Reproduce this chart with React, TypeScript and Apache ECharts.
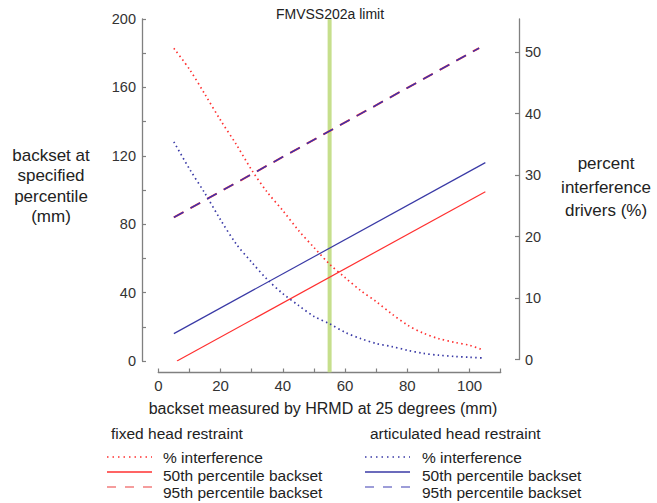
import React, { useEffect, useRef } from "react";
import * as echarts from "echarts";

// ---- data ----
const dotX = [5, 10, 15, 20, 25, 30, 35, 40, 45, 50, 55, 60, 65, 70, 75, 80, 85, 90, 95, 100, 104];
const fixedInterference = [50.6, 47.2, 43.1, 38.9, 35.0, 30.8, 27.2, 24.2, 21.0, 18.2, 15.5, 13.3, 11.2, 9.4, 7.4, 5.6, 4.3, 3.4, 2.8, 2.3, 1.6];
const articulatedInterference = [35.4, 31.0, 27.0, 22.7, 18.8, 15.8, 13.0, 10.7, 8.8, 7.0, 5.8, 4.4, 3.4, 2.6, 2.1, 1.5, 1.0, 0.7, 0.5, 0.35, 0.25];

const fixed50X = [6, 105];
const fixed50 = [0, 99];
const articulated50X = [5, 105];
const articulated50 = [16, 116];
const p95X = [5, 103];
const fixed95 = [84, 183];
const articulated95 = [84, 183];

const limitX = 55;
const limitLabel = "FMVSS202a limit";

const leftTicks = [0, 20, 40, 60, 80, 100, 120, 140, 160, 180, 200];
const leftLabels = [0, 40, 80, 120, 160, 200];
const rightTicks = [0, 10, 20, 30, 40, 50];
const xTicks = [0, 10, 20, 30, 40, 50, 60, 70, 80, 90, 100, 110];
const xLabels = [0, 20, 40, 60, 80, 100];

const xTitle = "backset measured by HRMD at 25 degrees (mm)";
const leftTitle = "backset at\nspecified\npercentile\n(mm)";
const rightTitle = "percent\ninterference\ndrivers (%)";
const legendGroups = ["fixed head restraint", "articulated head restraint"];
const legendItems = ["% interference", "50th percentile backset", "95th percentile backset"];

const RED = "#ff3030";
const BLUE = "#3a3aa6";
const GREEN = "#c6df8c";
const AXIS = "#808080";
const FONT = "'Liberation Sans', Arial, Helvetica, sans-serif";

const pairs = (xs: number[], ys: number[]) => xs.map((x, i) => [x, ys[i]]);

export default function App() {
  const ref = useRef<HTMLDivElement>(null);
  useEffect(() => {
    if (!ref.current) return;
    const chart = echarts.init(ref.current, null, { renderer: "svg" });

    const gridLeft = 142;
    const gridWidth = 377;
    const xMin = -5.23;
    const xMax = 115.8;

    const hiddenX = (gridIndex: number) => ({
      type: "value",
      gridIndex,
      min: xMin,
      max: xMax,
      show: false,
    });

    const legendCols = [
      { title: legendGroups[0], titleX: 111, lineX: 107, textX: 163, c1: RED, c2: RED, c3: "#f27d7d" },
      { title: legendGroups[1], titleX: 370, lineX: 365, textX: 422, c1: BLUE, c2: BLUE, c3: "#7d7dcc" },
    ];
    const lineYs = [457, 472, 487];
    const textYs = [457, 475, 492.5];
    const dashes = [[1.5, 4], null, [9, 9]];
    const graphics: any[] = [];
    legendCols.forEach((col) => {
      graphics.push({
        type: "text",
        x: col.titleX,
        y: 433,
        style: { text: col.title, font: `15.5px ${FONT}`, fill: "#222", align: "left", verticalAlign: "middle" },
      });
      const cols = [col.c1, col.c2, col.c3];
      legendItems.forEach((label, i) => {
        graphics.push({
          type: "line",
          shape: { x1: col.lineX, y1: lineYs[i], x2: col.lineX + 45, y2: lineYs[i] },
          style: { stroke: cols[i], lineWidth: i === 0 ? 1.6 : 1.3, lineDash: dashes[i] || undefined },
        });
        graphics.push({
          type: "text",
          x: col.textX,
          y: textYs[i],
          style: { text: label, font: `15.5px ${FONT}`, fill: "#222", align: "left", verticalAlign: "middle" },
        });
      });
    });
    graphics.push(
      {
        type: "text",
        x: 323,
        y: 408,
        style: { text: xTitle, font: `16px ${FONT}`, fill: "#222", align: "center", verticalAlign: "middle" },
      },
      {
        type: "text",
        x: 51,
        y: 186,
        style: { text: leftTitle, font: `17px ${FONT}`, lineHeight: 20.5, fill: "#222", align: "center", verticalAlign: "middle" },
      },
      {
        type: "text",
        x: 606,
        y: 187,
        style: { text: rightTitle, font: `17px ${FONT}`, lineHeight: 23.5, fill: "#222", align: "center", verticalAlign: "middle" },
      },
      {
        type: "text",
        x: 330,
        y: 13.5,
        style: { text: limitLabel, font: `14px ${FONT}`, fill: "#222", align: "center", verticalAlign: "middle" },
      }
    );

    chart.setOption({
      animation: false,
      backgroundColor: "#fff",
      grid: [
        { left: gridLeft, top: 19, width: gridWidth, height: 342 },
        { left: gridLeft, top: 19, width: gridWidth, height: 340.5 },
        { left: 158.3, top: 371.5, width: 342.4, height: 1 },
      ],
      xAxis: [
        hiddenX(0),
        hiddenX(1),
        {
          type: "value",
          gridIndex: 2,
          min: 0,
          max: 110,
          interval: 10,
          position: "bottom",
          axisLine: { show: true, onZero: false, lineStyle: { color: AXIS, width: 1.3 } },
          axisTick: { show: true, inside: true, length: 4, customValues: xTicks, lineStyle: { color: AXIS, width: 1.2 } },
          axisLabel: { customValues: xLabels, margin: 5, color: "#333", fontSize: 15, fontFamily: FONT },
          splitLine: { show: false },
        },
      ],
      yAxis: [
        {
          type: "value",
          gridIndex: 0,
          position: "left",
          min: 0,
          max: 200,
          interval: 20,
          axisLine: { show: true, onZero: false, lineStyle: { color: AXIS, width: 1.3 } },
          axisTick: { show: true, inside: true, length: 4, customValues: leftTicks, lineStyle: { color: AXIS, width: 1.2 } },
          axisLabel: { customValues: leftLabels, margin: 6, color: "#333", fontSize: 14.5, fontFamily: FONT },
          splitLine: { show: false },
        },
        {
          type: "value",
          gridIndex: 1,
          position: "right",
          min: 0,
          max: 55.37,
          interval: 10,
          axisLine: { show: true, onZero: false, lineStyle: { color: AXIS, width: 1.3 } },
          axisTick: { show: true, inside: true, length: 4, customValues: rightTicks, lineStyle: { color: AXIS, width: 1.2 } },
          axisLabel: { customValues: rightTicks, margin: 6, color: "#333", fontSize: 14.5, fontFamily: FONT },
          splitLine: { show: false },
        },
        {
          type: "value",
          gridIndex: 2,
          show: false,
        },
      ],
      graphic: graphics,
      series: [
        {
          type: "line",
          xAxisIndex: 0,
          yAxisIndex: 0,
          data: [[limitX, -6.6], [limitX, 200]],
          clip: false,
          symbol: "none",
          z: 1,
          lineStyle: { color: GREEN, width: 4 },
          silent: true,
        },
        {
          type: "line",
          xAxisIndex: 0,
          yAxisIndex: 0,
          data: pairs(fixed50X, fixed50),
          symbol: "none",
          z: 3,
          lineStyle: { color: RED, width: 1.2 },
        },
        {
          type: "line",
          xAxisIndex: 0,
          yAxisIndex: 0,
          data: pairs(articulated50X, articulated50),
          symbol: "none",
          z: 3,
          lineStyle: { color: BLUE, width: 1.2 },
        },
        {
          type: "line",
          xAxisIndex: 0,
          yAxisIndex: 0,
          data: pairs(p95X, fixed95),
          symbol: "none",
          z: 3,
          lineStyle: { color: RED, width: 2.0, type: [11, 8] },
        },
        {
          type: "line",
          xAxisIndex: 0,
          yAxisIndex: 0,
          data: pairs(p95X, articulated95),
          symbol: "none",
          z: 4,
          lineStyle: { color: "#3434b4", width: 1.4, type: [11, 8] },
        },
        {
          type: "line",
          xAxisIndex: 1,
          yAxisIndex: 1,
          data: pairs(dotX, fixedInterference),
          symbol: "none",
          smooth: 0.3,
          z: 3,
          lineStyle: { color: RED, width: 1.7, type: [1.5, 3.2] },
        },
        {
          type: "line",
          xAxisIndex: 1,
          yAxisIndex: 1,
          data: pairs(dotX, articulatedInterference),
          symbol: "none",
          smooth: 0.3,
          z: 3,
          lineStyle: { color: BLUE, width: 1.7, type: [1.5, 3.2] },
        },
      ],
    });
    return () => chart.dispose();
  }, []);
  return <div ref={ref} style={{ position: "absolute", left: 0, top: 0, width: 657, height: 503 }} />;
}
